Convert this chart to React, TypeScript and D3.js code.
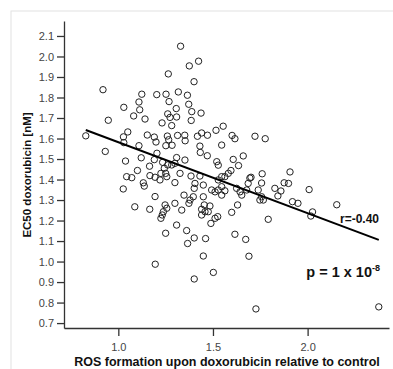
import React, { useEffect, useRef } from 'react';
import * as d3 from 'd3';

// ROS formation (x) and EC50 doxorubicin (y)
const rosValues = [
  1.329, 1.375, 1.424, 1.264, 1.400, 0.919, 1.124, 1.203, 1.252, 1.317,
  1.365, 1.109, 1.268, 1.372, 1.029, 1.113, 1.306, 1.388, 1.437, 1.081,
  1.141, 1.261, 1.273, 1.308, 0.947, 1.385, 1.231, 1.282, 1.516, 1.554,
  0.828, 1.027, 1.050, 1.153, 1.190, 1.199, 1.259, 1.266, 1.313, 1.351,
  1.353, 1.418, 1.440, 1.471, 1.601, 1.616, 1.722, 1.776, 0.931, 1.109,
  1.251, 1.284, 1.431, 1.546, 1.029, 1.433, 1.470, 1.204, 1.038, 1.121,
  1.165, 1.101, 1.190, 1.234, 1.261, 1.282, 1.299, 1.243, 1.308, 1.352,
  1.520, 1.528, 1.607, 1.660, 1.635, 1.595, 1.760, 1.695, 1.757, 1.686,
  1.907, 1.876, 1.899, 1.827, 1.859, 1.843, 2.008, 1.739, 1.678, 1.643,
  1.652, 1.625, 1.748, 1.766, 1.757, 1.920, 1.949, 2.154, 2.026, 2.017,
  1.792, 1.326, 1.299, 1.384, 1.431, 1.405, 1.449, 1.401, 1.347, 1.379,
  1.396, 1.373, 1.449, 1.454, 1.484, 1.440, 1.458, 1.475, 1.493, 1.511,
  1.528, 1.563, 1.546, 1.528, 1.546, 1.563, 1.581, 1.546, 1.630, 1.599,
  1.701, 1.299, 1.335, 1.308, 1.440, 1.489, 1.511, 1.525, 1.044, 1.071,
  1.132, 1.137, 1.026, 1.167, 1.194, 1.220, 1.225, 1.250, 1.256, 1.194,
  1.087, 1.166, 1.247, 1.256, 1.238, 1.232, 1.225, 1.250, 1.361, 1.401,
  1.366, 1.461, 1.449, 1.195, 1.401, 1.502, 1.616, 1.673, 1.690, 1.727,
  2.376,
];

const ec50Values = [
  2.050, 1.954, 1.977, 1.915, 1.877, 1.838, 1.816, 1.814, 1.816, 1.827,
  1.811, 1.778, 1.780, 1.767, 1.752, 1.740, 1.746, 1.731, 1.724, 1.710,
  1.695, 1.720, 1.703, 1.705, 1.689, 1.688, 1.676, 1.663, 1.640, 1.660,
  1.613, 1.608, 1.632, 1.617, 1.607, 1.583, 1.612, 1.594, 1.615, 1.616,
  1.589, 1.611, 1.627, 1.616, 1.615, 1.599, 1.611, 1.599, 1.537, 1.565,
  1.565, 1.567, 1.563, 1.568, 1.580, 1.532, 1.516, 1.528, 1.490, 1.506,
  1.465, 1.444, 1.497, 1.484, 1.471, 1.471, 1.479, 1.455, 1.507, 1.495,
  1.487, 1.470, 1.498, 1.515, 1.468, 1.444, 1.428, 1.407, 1.383, 1.381,
  1.437, 1.384, 1.381, 1.357, 1.344, 1.320, 1.351, 1.349, 1.349, 1.340,
  1.324, 1.357, 1.300, 1.300, 1.316, 1.292, 1.284, 1.277, 1.242, 1.222,
  1.206, 1.430, 1.385, 1.417, 1.417, 1.381, 1.373, 1.357, 1.324, 1.300,
  1.316, 1.284, 1.316, 1.276, 1.271, 1.255, 1.243, 1.243, 1.349, 1.340,
  1.349, 1.345, 1.324, 1.398, 1.414, 1.414, 1.430, 1.365, 1.276, 1.240,
  1.411, 1.284, 1.251, 1.178, 1.227, 1.186, 1.211, 1.219, 1.414, 1.409,
  1.384, 1.368, 1.354, 1.419, 1.411, 1.398, 1.430, 1.430, 1.414, 1.317,
  1.267, 1.255, 1.276, 1.260, 1.243, 1.227, 1.211, 1.138, 1.151, 1.115,
  1.088, 1.112, 1.027, 0.987, 0.915, 0.947, 1.133, 1.108, 1.026, 0.769,
  0.779,
];

const xTicks = [1.0, 1.5, 2.0];
const yTicks = [0.7, 0.8, 0.9, 1.0, 1.1, 1.2, 1.3, 1.4, 1.5, 1.6, 1.7, 1.8, 1.9, 2.0, 2.1];

// fitted line, as drawn in the figure
const fitIntercept = 1.928;
const fitSlope = -0.346;

const xTitle = 'ROS formation upon doxorubicin relative to control';
const yTitle = 'EC50 doxorubicin [nM]';
const rLabel = 'r=-0.40';

const W = 393;
const H = 369;
const font = "'Liberation Sans', Arial, sans-serif";

const App = () => {
  const xAxisRef = useRef(null);
  const yAxisRef = useRef(null);

  const x = d3.scaleLinear().domain([0.713, 2.43]).range([64, 389]);
  const y = d3.scaleLinear().domain([0.676, 2.173]).range([328, 21]);

  useEffect(() => {
    const xa = d3.select(xAxisRef.current);
    xa.selectAll('*').remove();
    xa.call(
      d3.axisBottom(x).tickValues(xTicks).tickFormat(d3.format('.1f'))
        .tickSize(8).tickSizeOuter(0).tickPadding(7)
    );
    const ya = d3.select(yAxisRef.current);
    ya.selectAll('*').remove();
    ya.call(
      d3.axisLeft(y).tickValues(yTicks).tickFormat(d3.format('.1f'))
        .tickSize(7).tickSizeOuter(0).tickPadding(3)
    );
    [xa, ya].forEach(g => {
      g.selectAll('path, line').attr('stroke', '#333').attr('stroke-width', 1.3);
      g.selectAll('text').attr('fill', '#444').style('font-size', '11px').style('font-family', font);
    });
  }, []);

  const pts = rosValues.map((v, i) => ({ x: v, y: ec50Values[i] }));
  const [xmin, xmax] = d3.extent(rosValues);
  const fitLine = d3.line().x(d => x(d[0])).y(d => y(d[1]));
  const fitPts = [xmin, xmax].map(v => [v, fitIntercept + fitSlope * v]);

  return (
    <svg width={W} height={H} style={{ position: 'absolute', left: 0, top: 0, background: '#fff' }}>
      <rect x={11} y={11} width={420} height={420} fill="none" stroke="#e2e2e2" strokeWidth={1} />
      <g ref={xAxisRef} transform={`translate(0,${y.range()[0]})`} />
      <g ref={yAxisRef} transform={`translate(${x.range()[0]},0)`} />
      {pts.map((d, i) => (
        <circle key={i} cx={x(d.x)} cy={y(d.y)} r={3.2} fill="none" stroke="#222" strokeWidth={1} />
      ))}
      <path d={fitLine(fitPts)} fill="none" stroke="#000" strokeWidth={2} />
      <text x={379} y={223} textAnchor="end" fontFamily={font} fontWeight="bold" fontSize={12} fill="#111">{rLabel}</text>
      <text x={380} y={277} textAnchor="end" fontFamily={font} fontWeight="bold" fontSize={14.5} fill="#111">
        p = 1 x 10<tspan fontSize={9} dy={-6}>-8</tspan>
      </text>
      <text x={227} y={366} textAnchor="middle" fontFamily={font} fontWeight="bold" fontSize={12.5} fill="#111">{xTitle}</text>
      <text transform="translate(31,175) rotate(-90)" textAnchor="middle" fontFamily={font} fontWeight="bold" fontSize={11.5} fill="#111">{yTitle}</text>
    </svg>
  );
};

export default App;
